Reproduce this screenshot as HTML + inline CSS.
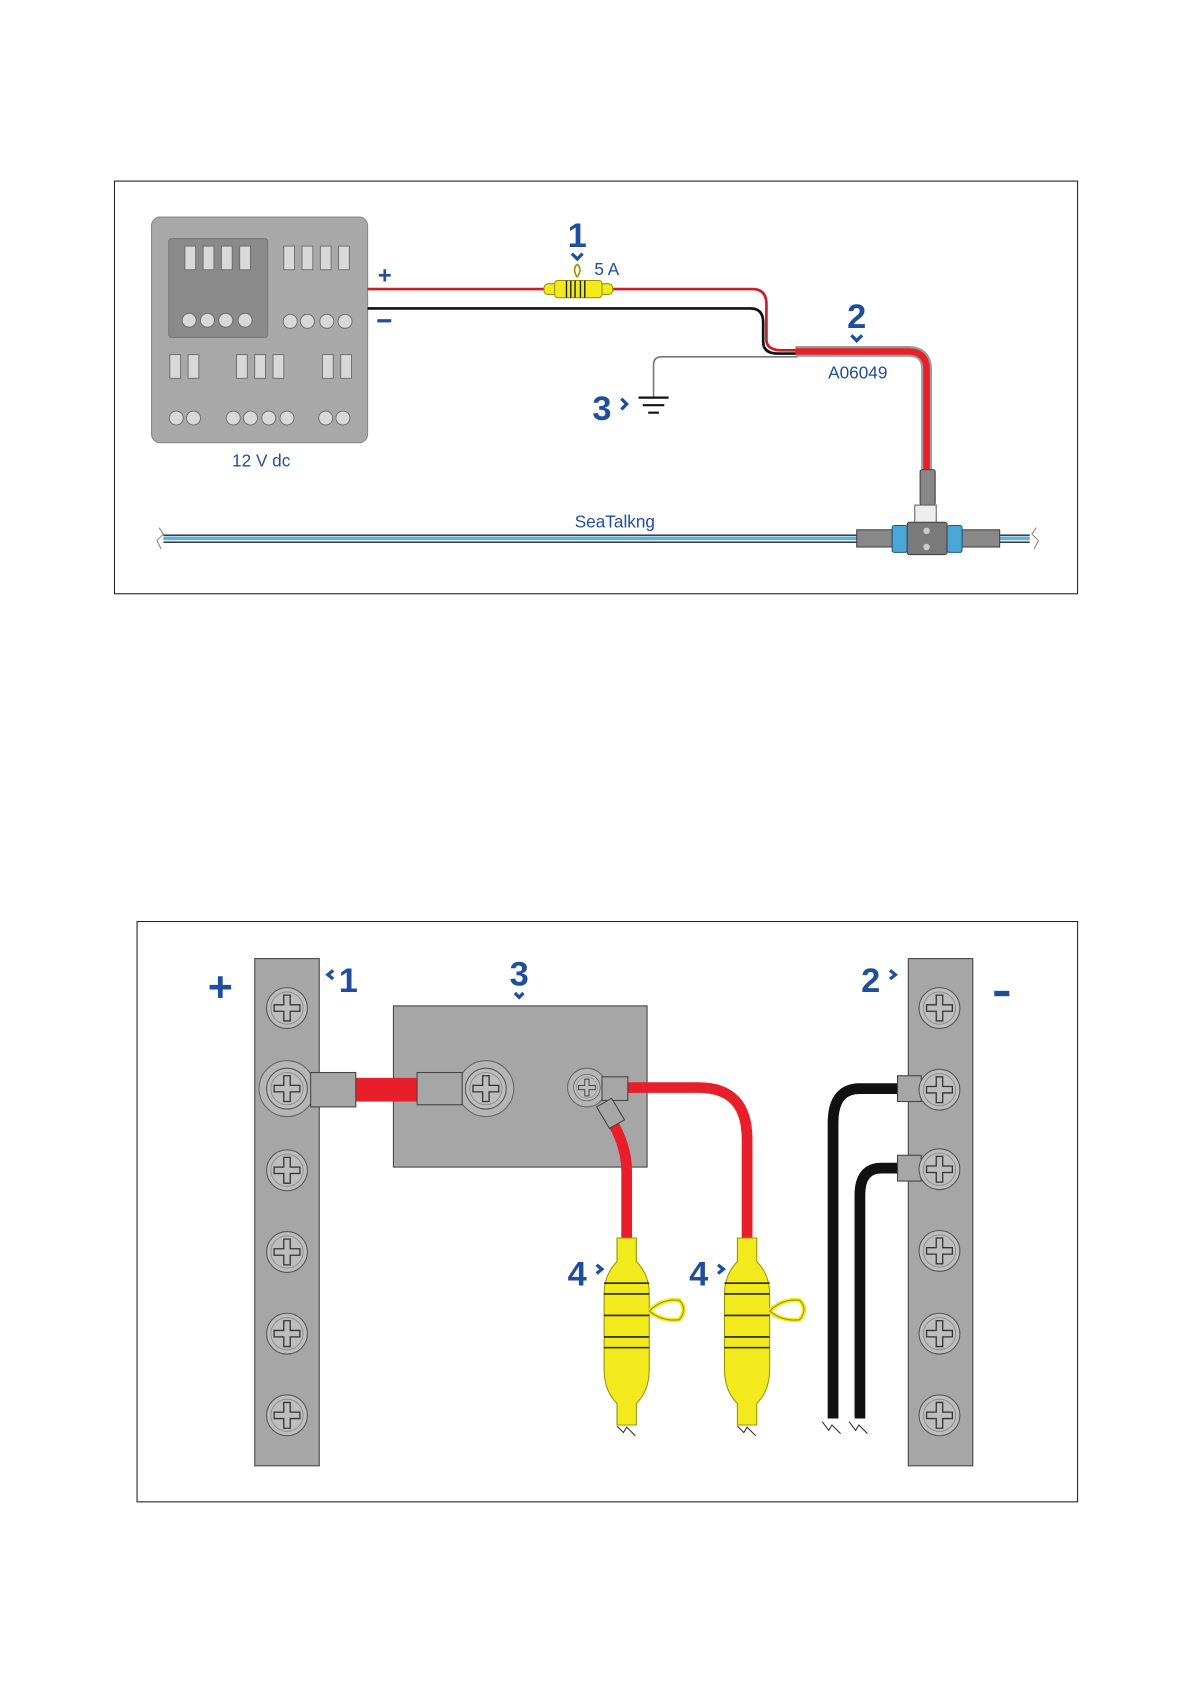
<!DOCTYPE html>
<html><head><meta charset="utf-8"><style>
html,body{margin:0;padding:0;background:#fff}
svg{display:block}
text{font-family:"Liberation Sans",sans-serif;fill:#1f4e9a}
.b{font-weight:bold}
</style></head><body>
<svg width="1191" height="1684" viewBox="0 0 1108 1567" preserveAspectRatio="none" xmlns="http://www.w3.org/2000/svg">
<defs>
<g id="scr"><circle r="19" fill="#bdbdbd" stroke="#555" stroke-width="1"/><circle r="15" fill="none" stroke="#888" stroke-width="0.8"/><path d="M-3,-12 h6 v9 h9 v6 h-9 v9 h-6 v-9 h-9 v-6 h9z" fill="#bdbdbd" stroke="#333" stroke-width="1.2"/></g>
<g id="fz">
<path d="M-9,0 h18 v22 q12,12 12,30 v70 q0,20 -12,32 v20 h-18 v-20 q-12,-12 -12,-32 v-70 q0,-18 12,-30z" fill="#f2ea1c" stroke="#9a9500" stroke-width="1"/>
<path d="M-21,42 h42 M-21,52 h42 M-21,72 h42 M-21,92 h42 M-21,102 h42" stroke="#222" stroke-width="1.5"/>
<path d="M21,68 q12,-12 28,-10 q8,8 0,18 q-16,2 -28,-8z" fill="none" stroke="#f2ea1c" stroke-width="4"/>
<path d="M21,68 q12,-12 28,-10 q8,8 0,18 q-16,2 -28,-8z" fill="none" stroke="#9a9500" stroke-width="1" />
</g>
</defs>
<!-- top box -->
<rect x="106.5" y="168.5" width="896" height="384" fill="#fff" stroke="#222" stroke-width="1"/>
<rect x="141" y="202" width="201" height="210" rx="8" fill="#a8a8a8" stroke="#888"/>
<rect x="157" y="222" width="92" height="92" rx="3" fill="#8a8a8a" stroke="#777"/>
<g fill="#d8d8d8" stroke="#666" stroke-width="0.8">
<rect x="172" y="229" width="10" height="22"/><rect x="189" y="229" width="10" height="22"/><rect x="206" y="229" width="10" height="22"/><rect x="223" y="229" width="10" height="22"/>
<rect x="264" y="229" width="10" height="22"/><rect x="281" y="229" width="10" height="22"/><rect x="298" y="229" width="10" height="22"/><rect x="315" y="229" width="10" height="22"/>
<rect x="158" y="330" width="10" height="22"/><rect x="175" y="330" width="10" height="22"/>
<rect x="220" y="330" width="10" height="22"/><rect x="237" y="330" width="10" height="22"/><rect x="254" y="330" width="10" height="22"/>
<rect x="300" y="330" width="10" height="22"/><rect x="317" y="330" width="10" height="22"/>
<circle cx="176" cy="298" r="6.5"/><circle cx="193" cy="298" r="6.5"/><circle cx="210" cy="298" r="6.5"/><circle cx="228" cy="298" r="6.5"/>
<circle cx="270" cy="299" r="6.5"/><circle cx="286" cy="299" r="6.5"/><circle cx="304" cy="299" r="6.5"/><circle cx="321" cy="299" r="6.5"/>
<circle cx="164" cy="389" r="6.5"/><circle cx="180" cy="389" r="6.5"/>
<circle cx="217" cy="389" r="6.5"/><circle cx="233" cy="389" r="6.5"/><circle cx="250" cy="389" r="6.5"/><circle cx="267" cy="389" r="6.5"/>
<circle cx="303" cy="389" r="6.5"/><circle cx="319" cy="389" r="6.5"/>
</g>
<text x="243" y="434" font-size="16" text-anchor="middle">12 V dc</text>
<text x="358" y="264" font-size="22" class="b" text-anchor="middle">+</text>
<rect x="351" y="297" width="13" height="3" fill="#1f4e9a"/>
<!-- wires -->
<path d="M342,269 H700 Q713,269 713,283 V316 Q713,326 728,326 H742" fill="none" stroke="#c81e28" stroke-width="2.5"/>
<path d="M342,287 H698 Q710,287 710,300 V318 Q710,329 724,329 H742" fill="none" stroke="#111" stroke-width="2.5"/>
<path d="M742,332 H615 Q608,332 608,340 V370" fill="none" stroke="#777" stroke-width="1.5"/>
<path d="M594,370 h28 M598,377 h20 M603,384 h10" stroke="#111" stroke-width="2"/>
<path d="M740,327 H845 Q862,327 862,344 V438" fill="none" stroke="#999" stroke-width="10"/>
<path d="M740,327 H845 Q862,327 862,344 V438" fill="none" stroke="#e81e2a" stroke-width="6"/>
<!-- fuse -->
<path d="M537,258 q-5,-8 0,-12 q5,4 0,12" fill="none" stroke="#9a9500" stroke-width="1.5"/>
<rect x="506" y="264" width="64" height="10" rx="4" fill="#f2ea1c" stroke="#9a9500"/>
<rect x="516" y="261" width="44" height="16" rx="3" fill="#f2ea1c" stroke="#9a9500"/>
<path d="M527,261v16M531,261v16M535,261v16M540,261v16M544,261v16" stroke="#222" stroke-width="1.3"/>
<text x="537" y="230" font-size="32" class="b" text-anchor="middle">1</text>
<path d="M532,236 l5,5 5,-5" fill="none" stroke="#1f4e9a" stroke-width="3"/>
<text x="553" y="256" font-size="16">5 A</text>
<text x="797" y="305" font-size="32" class="b" text-anchor="middle">2</text>
<path d="M792,312 l5,5 5,-5" fill="none" stroke="#1f4e9a" stroke-width="3"/>
<text x="798" y="352" font-size="16" text-anchor="middle">A06049</text>
<text x="560" y="391" font-size="32" class="b" text-anchor="middle">3</text>
<path d="M578,371 l5,5 -5,5" fill="none" stroke="#1f4e9a" stroke-width="3"/>
<!-- backbone -->
<path d="M152,498 H958" stroke="#222" stroke-width="1.2"/>
<path d="M152,501 H958" stroke="#5ab4e0" stroke-width="3.5"/>
<path d="M152,504.5 H958" stroke="#222" stroke-width="1.2"/>
<path d="M148,491 l4,6 -6,6 4,8 M964,491 l-4,6 6,6 -4,8" fill="none" stroke="#888" stroke-width="1"/>
<text x="572" y="491" font-size="16" text-anchor="middle">SeaTalkng</text>
<!-- T connector -->
<rect x="856" y="437" width="14" height="33" rx="2" fill="#888" stroke="#444"/>
<rect x="851" y="470" width="20" height="17" fill="#eee" stroke="#666"/>
<rect x="797" y="493" width="33" height="16" fill="#888" stroke="#444"/>
<rect x="895" y="493" width="35" height="16" fill="#888" stroke="#444"/>
<rect x="830" y="489" width="14" height="25" rx="2" fill="#4aa7d6" stroke="#1d5a80"/>
<rect x="881" y="489" width="14" height="25" rx="2" fill="#4aa7d6" stroke="#1d5a80"/>
<rect x="844" y="486" width="37" height="30" rx="2" fill="#7a7a7a" stroke="#444"/>
<circle cx="862" cy="494" r="3" fill="#ccc"/><circle cx="862" cy="509" r="3" fill="#ccc"/>
<!-- bottom box -->
<rect x="127.5" y="857.5" width="875" height="540" fill="#fff" stroke="#222" stroke-width="1"/>
<rect x="237" y="892" width="60" height="472" fill="#a6a6a6" stroke="#444"/>
<rect x="845" y="892" width="60" height="472" fill="#a6a6a6" stroke="#444"/>
<circle cx="267" cy="1013" r="26" fill="#b5b5b5" stroke="#666"/>
<use href="#scr" x="267" y="938"/><use href="#scr" x="267" y="1013"/><use href="#scr" x="267" y="1089"/><use href="#scr" x="267" y="1165"/><use href="#scr" x="267" y="1241"/><use href="#scr" x="267" y="1317"/>
<text x="205" y="932" font-size="40" class="b" text-anchor="middle">+</text>
<rect x="925" y="922" width="14" height="5" fill="#1f4e9a"/>
<text x="324" y="923" font-size="32" class="b" text-anchor="middle">1</text>
<path d="M310,903 l-5,4 5,4" fill="none" stroke="#1f4e9a" stroke-width="3"/>
<text x="810" y="923" font-size="32" class="b" text-anchor="middle">2</text>
<path d="M828,903 l5,4 -5,4" fill="none" stroke="#1f4e9a" stroke-width="3"/>
<text x="483" y="917" font-size="32" class="b" text-anchor="middle">3</text>
<path d="M479,924 l4,4 4,-4" fill="none" stroke="#1f4e9a" stroke-width="3"/>
<rect x="366" y="936" width="236" height="150" fill="#a6a6a6" stroke="#444"/>
<rect x="330" y="1003" width="58" height="22" fill="#e81e2a"/>
<rect x="289" y="998" width="42" height="32" fill="#a6a6a6" stroke="#444"/>
<circle cx="452" cy="1013" r="26" fill="#b5b5b5" stroke="#666"/>
<rect x="388" y="998" width="42" height="30" fill="#a6a6a6" stroke="#444"/>
<use href="#scr" x="452" y="1013"/>
<!-- red wires -->
<path d="M583,1012 H650 Q695,1012 695,1060 V1158" fill="none" stroke="#e81e2a" stroke-width="10"/>
<path d="M567,1040 Q583,1065 583,1090 V1158" fill="none" stroke="#e81e2a" stroke-width="10"/>
<circle cx="546" cy="1012" r="18" fill="#b5b5b5" stroke="#666"/>
<rect x="560" y="1002" width="24" height="22" fill="#a6a6a6" stroke="#444"/>
<path d="M555,1030 l14,-8 12,20 -14,8z" fill="#a6a6a6" stroke="#444"/>
<g transform="translate(546,1012) scale(0.65)"><use href="#scr"/></g>
<path d="M583,1300 V1322 M695,1300 V1322" stroke="#e81e2a" stroke-width="9"/>
<path d="M574,1327 l6,6 3,-5 8,8 M686,1327 l6,6 3,-5 8,8 M765,1323 l6,8 3,-5 8,8 M790,1323 l6,8 3,-5 8,8" fill="none" stroke="#333" stroke-width="1"/>
<use href="#fz" x="583" y="1152"/><use href="#fz" x="695" y="1152"/>
<text x="537" y="1196" font-size="32" class="b" text-anchor="middle">4</text>
<path d="M555,1177 l5,4 -5,4" fill="none" stroke="#1f4e9a" stroke-width="3"/>
<text x="650" y="1196" font-size="32" class="b" text-anchor="middle">4</text>
<path d="M668,1177 l5,4 -5,4" fill="none" stroke="#1f4e9a" stroke-width="3"/>
<!-- black wires -->
<path d="M838,1013 H800 Q775,1013 775,1045 V1320" fill="none" stroke="#111" stroke-width="10"/>
<path d="M838,1087 H820 Q800,1087 800,1112 V1320" fill="none" stroke="#111" stroke-width="10"/>
<rect x="835" y="1001" width="22" height="24" fill="#a6a6a6" stroke="#444"/>
<rect x="835" y="1075" width="22" height="24" fill="#a6a6a6" stroke="#444"/>
<use href="#scr" x="874" y="938"/><use href="#scr" x="874" y="1014"/><use href="#scr" x="874" y="1088"/><use href="#scr" x="874" y="1164"/><use href="#scr" x="874" y="1241"/><use href="#scr" x="874" y="1317"/>
</svg>
</body></html>
